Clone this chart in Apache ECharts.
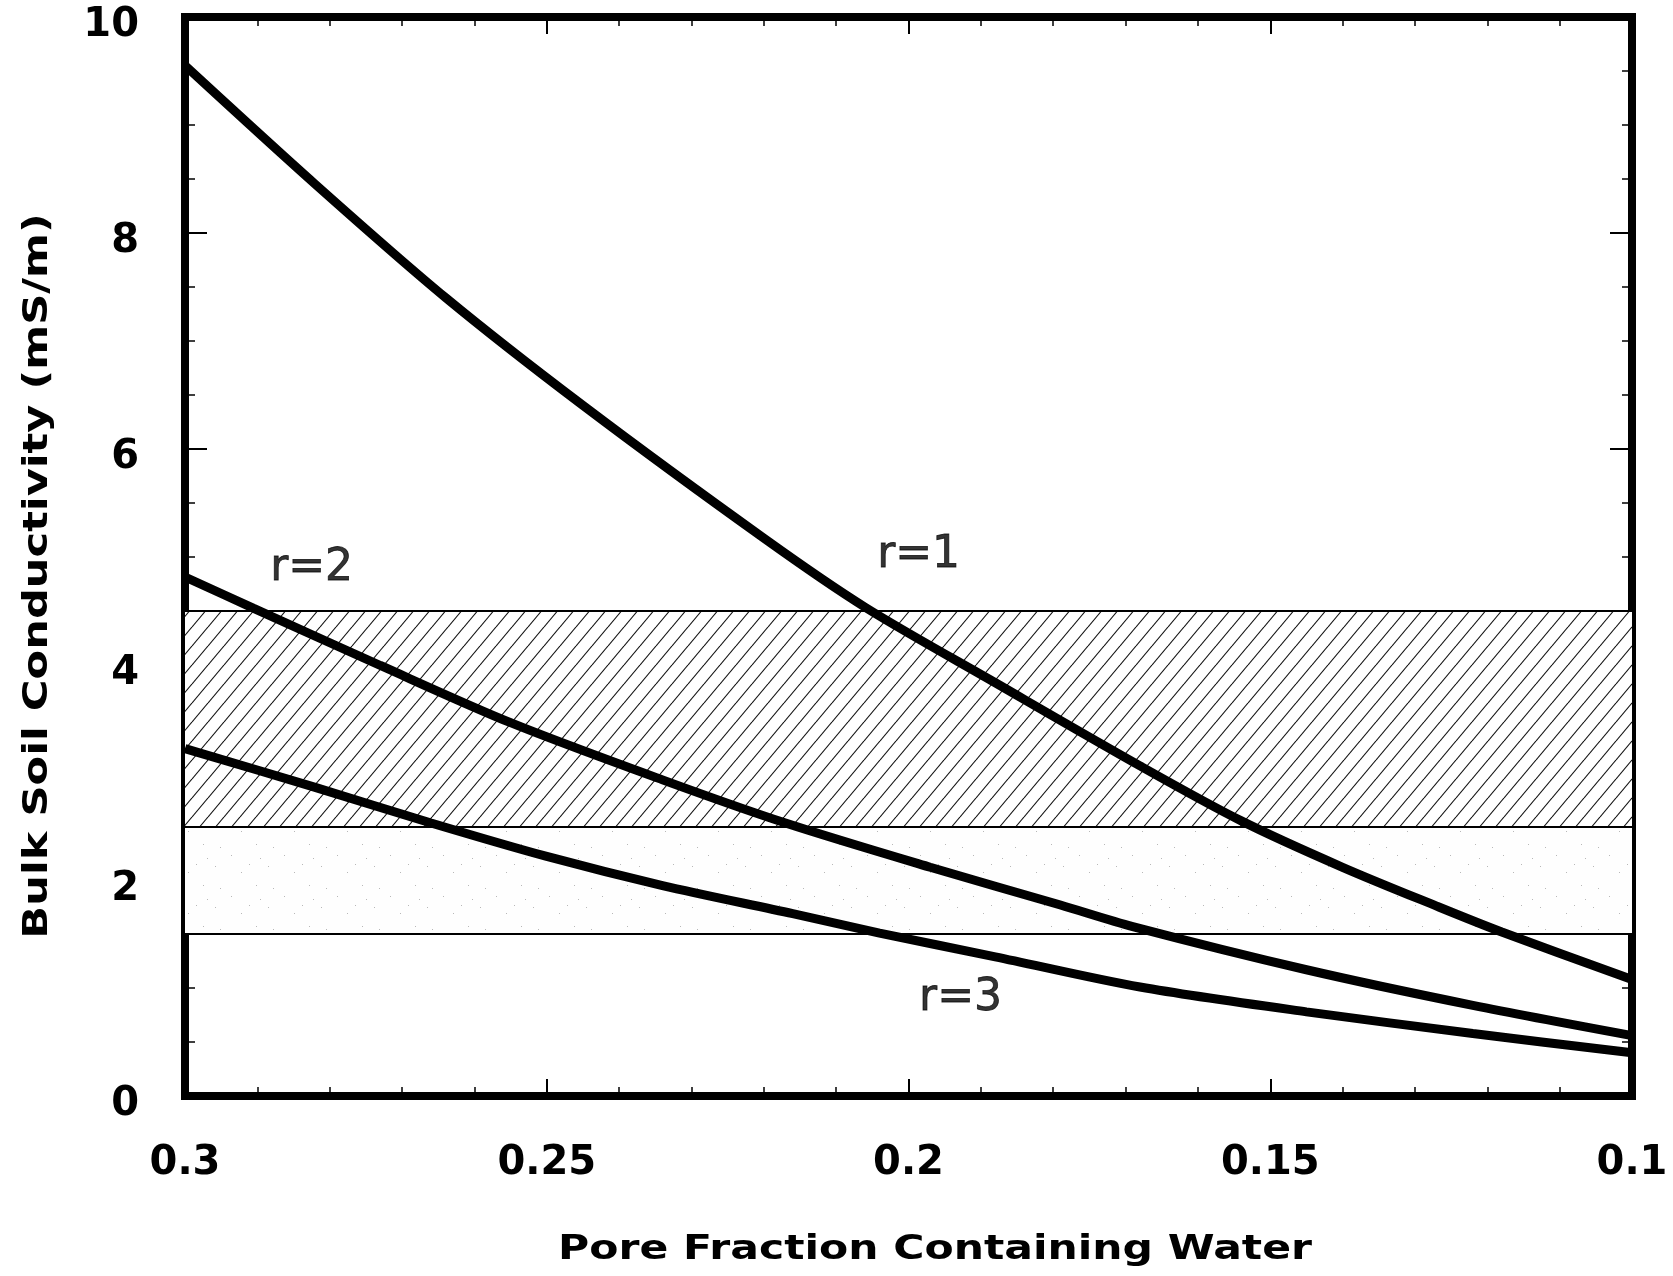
<!DOCTYPE html>
<html>
<head>
<meta charset="utf-8">
<script src="https://cdn.jsdelivr.net/npm/echarts@6/dist/echarts.min.js"></script>
<style>
html,body{margin:0;padding:0;background:#fff;}
#chart{width:1673px;height:1276px;}
</style>
</head>
<body>
<div id="chart"></div>
<script>
// ---- data ----
const r1X = [0.300, 0.282, 0.264, 0.245, 0.220, 0.206, 0.188, 0.168, 0.154, 0.140, 0.127, 0.118, 0.100];
const r1Y = [9.55, 8.45, 7.40, 6.40, 5.17, 4.53, 3.83, 3.06, 2.55, 2.12, 1.76, 1.52, 1.08];
const r2X = [0.300, 0.2905, 0.273, 0.255, 0.234, 0.217, 0.197, 0.179, 0.169, 0.145, 0.122, 0.100];
const r2Y = [4.81, 4.52, 3.99, 3.46, 2.93, 2.53, 2.12, 1.77, 1.57, 1.17, 0.84, 0.56];
const r3X = [0.300, 0.282, 0.266, 0.250, 0.234, 0.216, 0.204, 0.188, 0.168, 0.145, 0.122, 0.100];
const r3Y = [3.22, 2.86, 2.53, 2.22, 1.95, 1.69, 1.51, 1.29, 1.01, 0.78, 0.58, 0.40];

const hatchBand = [2.5, 4.5];
const stippleBand = [1.5, 2.5];

const curveLabels = ['r=1', 'r=2', 'r=3'];
const curveLabelX = [0.1986, 0.2825, 0.1928];
const curveLabelY = [5.01, 4.89, 0.90];

const xTicks = [0.3, 0.25, 0.2, 0.15, 0.1];
const yTicks = [0, 2, 4, 6, 8, 10];

const xTitle = 'Pore Fraction Containing Water';
const yTitle = 'Bulk Soil Conductivity (mS/m)';

// ---- fill patterns ----
function hatchTile() {
  const w = 16, h = 19;
  const c = document.createElement('canvas');
  c.width = w; c.height = h;
  const ctx = c.getContext('2d');
  ctx.fillStyle = '#fff'; ctx.fillRect(0, 0, w, h);
  ctx.strokeStyle = '#111'; ctx.lineWidth = 1.1;
  for (let k = -1; k <= 1; k++) {
    ctx.beginPath(); ctx.moveTo(k * w, h); ctx.lineTo(k * w + w, 0); ctx.stroke();
  }
  return c;
}
function stippleTile() {
  const w = 53, h = 41;
  const c = document.createElement('canvas');
  c.width = w; c.height = h;
  const ctx = c.getContext('2d');
  ctx.fillStyle = '#fefefe'; ctx.fillRect(0, 0, w, h);
  ctx.fillStyle = '#b8b8b8';
  const dots = [[3,5],[29,11],[8,27],[44,24],[19,35],[37,3],[48,38]];
  dots.forEach(d => ctx.fillRect(d[0], d[1], 1, 1));
  return c;
}

function pairs(xs, ys) { return xs.map((x, i) => [x, ys[i]]); }

const chart = echarts.init(document.getElementById('chart'), null, {renderer: 'canvas'});

const frameLine = {show: true, onZero: false, lineStyle: {color: '#000', width: 8, cap: 'square'}};
const labelFont = {fontFamily: 'DejaVu Sans', fontWeight: 'bold', fontSize: 40, color: '#000'};

function xAxisDef(pos, showLabel) {
  return {
    type: 'value', position: pos, min: 0.1, max: 0.3, interval: 0.05, inverse: true,
    axisLine: frameLine,
    axisTick: {show: true, inside: true, length: 17, lineStyle: {color: '#000', width: 2}},
    minorTick: {show: true, splitNumber: 5, length: 9, lineStyle: {color: '#000', width: 1.5}},
    splitLine: {show: false}, minorSplitLine: {show: false},
    axisLabel: Object.assign({show: showLabel, margin: 48, formatter: v => String(+v.toFixed(2))}, labelFont)
  };
}
function yAxisDef(pos, showLabel) {
  return {
    type: 'value', position: pos, min: 0, max: 10, interval: 2,
    axisLine: frameLine,
    axisTick: {show: true, inside: true, length: 22, lineStyle: {color: '#000', width: 2}},
    minorTick: {show: true, splitNumber: 4, length: 10, lineStyle: {color: '#000', width: 1.5}},
    splitLine: {show: false}, minorSplitLine: {show: false},
    axisLabel: Object.assign({show: showLabel, margin: 46,
      formatter: v => '{a|' + v + '}',
      rich: {a: {fontFamily: 'DejaVu Sans', fontWeight: 'bold', fontSize: 40, color: '#000', padding: [18, 0, 0, 0]}}
    }, labelFont)
  };
}

function curve(name, xs, ys) {
  return {
    name: name, type: 'line', data: pairs(xs, ys), smooth: 0.3, symbol: 'none', z: 5,
    lineStyle: {color: '#000', width: 9}, silent: true
  };
}

const option = {
  backgroundColor: '#fff',
  animation: false,
  grid: {left: 185, right: 41, top: 17, bottom: 180, containLabel: false},
  xAxis: [xAxisDef('bottom', true), xAxisDef('top', false)],
  yAxis: [yAxisDef('left', true), yAxisDef('right', false)],
  series: [
    {
      name: 'bands', type: 'line', data: [], z: 1, silent: true,
      markArea: {
        silent: true,
        data: [
          [{yAxis: hatchBand[0], itemStyle: {color: {image: hatchTile(), repeat: 'repeat'}}}, {yAxis: hatchBand[1]}],
          [{yAxis: stippleBand[0], itemStyle: {color: {image: stippleTile(), repeat: 'repeat'}}}, {yAxis: stippleBand[1]}]
        ]
      },
      markLine: {
        silent: true, symbol: 'none', label: {show: false},
        lineStyle: {color: '#000', width: 2, type: 'solid'},
        data: [{yAxis: stippleBand[0]}, {yAxis: hatchBand[0]}, {yAxis: hatchBand[1]}]
      }
    },
    curve('r=1', r1X, r1Y),
    curve('r=2', r2X, r2Y),
    curve('r=3', r3X, r3Y),
    {
      name: 'labels', type: 'scatter', symbolSize: 0, z: 6, silent: true,
      data: curveLabels.map((t, i) => ({name: t, value: [curveLabelX[i], curveLabelY[i]]})),
      label: {show: true, position: 'inside', formatter: p => p.name,
        fontFamily: 'DejaVu Sans', fontSize: 44, color: '#000', textBorderColor: '#000', textBorderWidth: 0.8}
    }
  ],
  graphic: [
    {type: 'text', x: 935, y: 1250, scaleX: 1.25, silent: true,
      style: {text: xTitle, fontFamily: 'DejaVu Sans', fontWeight: 'bold', fontSize: 34, fill: '#000',
        align: 'center', verticalAlign: 'middle'}},
    {type: 'text', x: 38, y: 576, rotation: Math.PI / 2, scaleX: 1.27, silent: true,
      style: {text: yTitle, fontFamily: 'DejaVu Sans', fontWeight: 'bold', fontSize: 34, fill: '#000',
        align: 'center', verticalAlign: 'middle'}}
  ]
};
chart.setOption(option);
</script>
</body>
</html>
